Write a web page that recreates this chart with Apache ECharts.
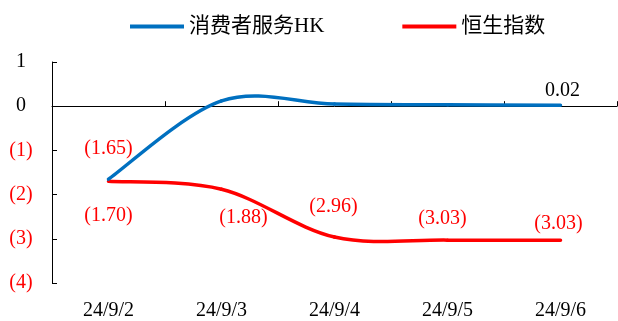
<!DOCTYPE html>
<html>
<head>
<meta charset="utf-8">
<script src="https://cdn.jsdelivr.net/npm/echarts@6/dist/echarts.min.js"></script>
<style>
  html, body { margin: 0; padding: 0; background: #fff; }
  #chart { width: 618px; height: 321px; }
</style>
</head>
<body>
<div id="chart"></div>
<script>
// Daily cumulative change (%), consumer services HK vs Hang Seng Index
const categories = ['24/9/2', '24/9/3', '24/9/4', '24/9/5', '24/9/6'];
const consumerHK = [-1.65, 0.12, 0.05, 0.03, 0.02];
const hangSeng = [-1.70, -1.88, -2.96, -3.03, -3.03];
const seriesNames = ['消费者服务HK', '恒生指数'];

const FONT = "'Liberation Serif', 'Noto Sans CJK SC', serif";
const BLUE = '#0070C0';
const RED = '#FF0000';

function fmt(v, digits) {
  const s = Math.abs(v).toFixed(digits);
  return v < 0 ? '(' + s + ')' : s;
}

// label placement per point: [dx, dy] from the point, or null for no label
const blueLabelOffsets = [[0, -30], null, null, null, [2, -15]];
const redLabelOffsets = [[0, 34], [22, 28], [-1, -30], [-5, -21], [-2, -16]];

function buildData(values, offsets) {
  return values.map((v, i) => {
    const off = offsets[i];
    const item = { value: v };
    if (off) {
      item.label = {
        show: true,
        position: 'inside',
        offset: off,
        formatter: fmt(v, 2),
        color: v < 0 ? RED : '#000',
        fontFamily: FONT,
        fontSize: 20
      };
    } else {
      item.label = { show: false };
    }
    return item;
  });
}

// Cardinal spline segment between point i and i+1 (tangent = (next - prev) / 6),
// positions taken from the chart's coordinate system.
function splineRenderer(values, color) {
  return function (params, api) {
    const i = params.dataIndex;
    const n = values.length;
    if (i >= n - 1) return null;
    const pt = k => api.coord([k, values[k]]);
    const p0 = pt(Math.max(i - 1, 0));
    const p1 = pt(i);
    const p2 = pt(i + 1);
    const p3 = pt(Math.min(i + 2, n - 1));
    const t = 1 / 6;
    return {
      type: 'bezierCurve',
      shape: {
        x1: p1[0], y1: p1[1],
        x2: p2[0], y2: p2[1],
        cpx1: p1[0] + (p2[0] - p0[0]) * t,
        cpy1: p1[1] + (p2[1] - p0[1]) * t,
        cpx2: p2[0] - (p3[0] - p1[0]) * t,
        cpy2: p2[1] - (p3[1] - p1[1]) * t
      },
      style: { stroke: color, lineWidth: 3.5, fill: null, lineCap: 'round' },
      silent: true
    };
  };
}

const chart = echarts.init(document.getElementById('chart'), null, { renderer: 'canvas' });

chart.setOption({
  animation: false,
  backgroundColor: '#fff',
  legend: {
    top: 11,
    left: 125,
    itemWidth: 54,
    itemHeight: 4,
    itemGap: 78,
    textStyle: { fontFamily: FONT, fontSize: 21, color: '#000' },
    data: [
      { name: seriesNames[0], icon: 'rect' },
      { name: seriesNames[1], icon: 'rect' }
    ]
  },
  grid: { left: 52, right: 1, top: 62, bottom: 35, containLabel: false },
  xAxis: [
    {
      type: 'category',
      data: categories,
      boundaryGap: true,
      axisLine: { show: true, onZero: true, lineStyle: { color: '#000', width: 1 } },
      axisTick: { show: true, inside: true, length: 5, interval: 0, lineStyle: { color: '#000' } },
      axisLabel: { show: false },
      splitLine: { show: false }
    },
    {
      type: 'category',
      data: categories,
      position: 'bottom',
      boundaryGap: true,
      axisLine: { show: false, onZero: false },
      axisTick: { show: false },
      axisLabel: {
        show: true,
        interval: 0,
        margin: 18,
        fontFamily: FONT,
        fontSize: 20,
        color: '#000'
      },
      splitLine: { show: false }
    }
  ],
  yAxis: {
    type: 'value',
    min: -4,
    max: 1,
    interval: 1,
    axisLine: { show: true, lineStyle: { color: '#000', width: 1 } },
    axisTick: { show: true, inside: true, length: 5, lineStyle: { color: '#000' } },
    splitLine: { show: false },
    axisLabel: {
      margin: 31,
      align: 'center',
      fontFamily: FONT,
      fontSize: 20,
      formatter: v => fmt(v, 0),
      color: v => (Number(v) < 0 ? RED : '#000')
    }
  },
  series: [
    {
      name: seriesNames[0],
      type: 'line',
      xAxisIndex: 0,
      symbol: 'circle',
      symbolSize: 0,
      showSymbol: true,
      lineStyle: { color: BLUE, width: 3.5, opacity: 0 },
      itemStyle: { color: BLUE },
      data: buildData(consumerHK, blueLabelOffsets),
      z: 4
    },
    {
      name: seriesNames[1],
      type: 'line',
      xAxisIndex: 0,
      symbol: 'circle',
      symbolSize: 0,
      showSymbol: true,
      lineStyle: { color: RED, width: 3.5, opacity: 0 },
      itemStyle: { color: RED },
      data: buildData(hangSeng, redLabelOffsets),
      z: 4
    },
    {
      name: seriesNames[1],
      type: 'custom',
      xAxisIndex: 0,
      renderItem: splineRenderer(hangSeng, RED),
      itemStyle: { color: RED },
      data: hangSeng.map((v, i) => [i, v]),
      z: 2
    },
    {
      name: seriesNames[0],
      type: 'custom',
      xAxisIndex: 0,
      renderItem: splineRenderer(consumerHK, BLUE),
      itemStyle: { color: BLUE },
      data: consumerHK.map((v, i) => [i, v]),
      z: 3
    }
  ]
});
</script>
</body>
</html>
